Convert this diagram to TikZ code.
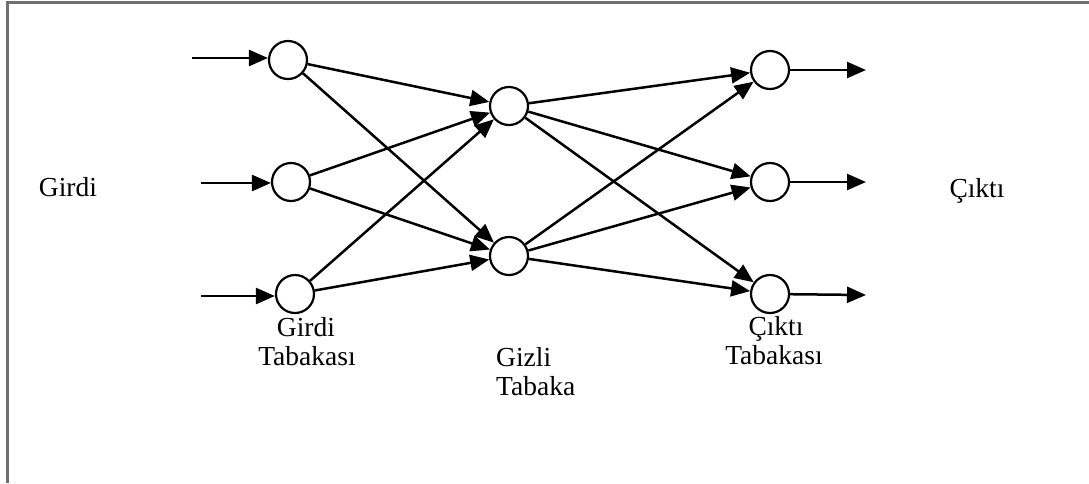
\documentclass[tikz,border=0pt]{standalone}
\usepackage{fontspec}
\setmainfont{Liberation Serif}
\usetikzlibrary{arrows.meta}
\definecolor{framegray}{RGB}{112,112,112}
\begin{document}
\begin{tikzpicture}[x=1pt,y=-1pt,
  neuron/.style={draw,circle,line width=2.2pt,minimum size=38pt,inner sep=0pt},
  link/.style={line width=2.5pt,-{Triangle[length=19pt,width=16pt]}},
  lbl/.style={font=\fontsize{27.5}{30}\selectfont,inner sep=0pt},
  lblbase/.style={lbl,anchor=base}]
\useasboundingbox (0,0) rectangle (1089,483);
% frame (only top and left edges visible)
\draw[framegray,line width=2.5pt] (7.3,483) -- (7.3,2.3) -- (1089,2.3);

% input layer
\node[neuron] (i1) at (288,60) {};
\node[neuron] (i2) at (291,182) {};
\node[neuron] (i3) at (295,294) {};
% hidden layer
\node[neuron] (h1) at (509,106) {};
\node[neuron] (h2) at (509,256) {};
% output layer
\node[neuron] (o1) at (770,70) {};
\node[neuron] (o2) at (770,182) {};
\node[neuron] (o3) at (770,294) {};

% free ends of the input and output arrows
\coordinate (s1) at (192,58);
\coordinate (s2) at (201,183);
\coordinate (s3) at (201,296);
\coordinate (e1) at (866,70);
\coordinate (e2) at (866,182);
\coordinate (e3) at (866,295);

\draw[link] (s1) -- (s1 -| i1.west);
\draw[link] (s2) -- (s2 -| i2.west);
\draw[link] (s3) -- (s3 -| i3.west);
\draw[link] (o1) -- (e1);
\draw[link] (o2) -- (e2);
\draw[link] (o3) -- (e3);

% input -> hidden
\foreach \a in {i1,i2,i3}
  \foreach \b in {h1,h2}
    \draw[link] (\a) -- (\b);
% hidden -> output
\foreach \a in {h1,h2}
  \foreach \b in {o1,o2,o3}
    \draw[link] (\a) -- (\b);

% labels
\node[lbl] (tin) at (68,187) {Girdi};
\node[lbl] (tout) at (977,191) {Çıktı};
\node[lblbase] (g1) at (306,336) {Girdi};
\node[lblbase] (g2) at (307,365) {Tabakası};
\node[lblbase,anchor=base west] (z1) at (496,366) {Gizli};
\node[lblbase,anchor=base west] (z2) at (496,395) {Tabaka};
\node[lblbase] (c1) at (776,335) {Çıktı};
\node[lblbase] (c2) at (774,364) {Tabakası};
\end{tikzpicture}
\end{document}
